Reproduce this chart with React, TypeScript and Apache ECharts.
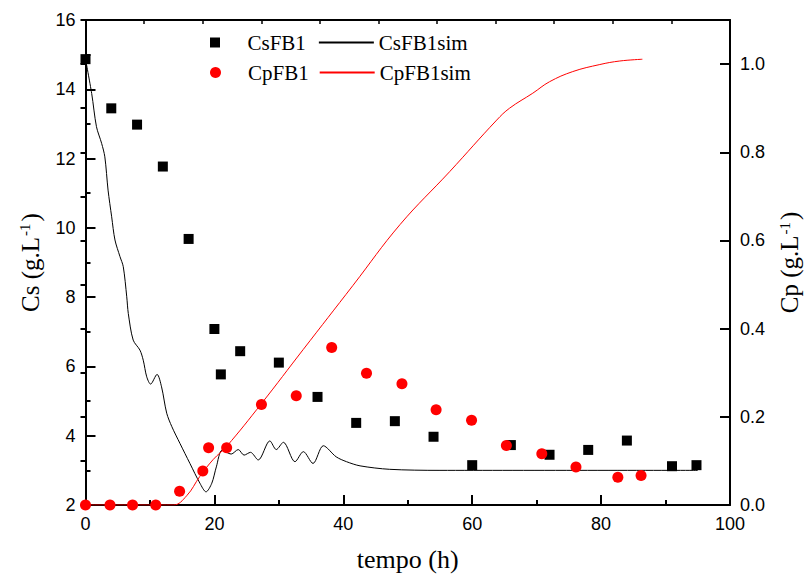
import React, { useEffect, useRef } from 'react';
import * as echarts from 'echarts';

// Measured substrate Cs (g/L), left axis
const csT = [0, 4, 8, 12, 16, 20, 21, 24, 30, 36, 42, 48, 54, 60, 66, 72, 78, 84, 91, 94.8];
const csV = [14.87, 13.45, 12.98, 11.77, 9.68, 7.08, 5.77, 6.44, 6.11, 5.12, 4.37, 4.42, 3.97, 3.15, 3.73, 3.45, 3.59, 3.86, 3.12, 3.15];

// Measured product Cp (g/L), right axis
const cpT = [0, 3.8, 7.3, 10.9, 14.6, 18.2, 19.1, 21.9, 27.3, 32.7, 38.2, 43.6, 49.1, 54.4, 59.9, 65.3, 70.8, 76.1, 82.6, 86.2];
const cpV = [0, 0, 0, 0, 0.031, 0.077, 0.13, 0.13, 0.228, 0.248, 0.357, 0.299, 0.275, 0.216, 0.192, 0.135, 0.116, 0.086, 0.063, 0.067];

// Simulated Cs curve
const csSimT = [0, 0.96, 1.7, 2.5, 3.0, 3.5, 4.06, 4.57, 5.35, 5.86, 6.4, 6.64, 7.4, 8.45, 8.96, 9.5, 10.1, 11.1, 11.8, 12.6, 13.4, 14.65, 16.2, 17.75, 18.7, 19.6, 20.3, 21.2, 22.6, 23.7, 24.6, 25.6, 26.8, 28.6, 29.6, 30.7, 32.5, 33.8, 35.3, 36.9, 38.9, 40.5, 42.6, 47.2, 55, 95];
const csSimV = [14.87, 13.88, 12.92, 12.44, 12.05, 11.09, 10.32, 9.65, 9.17, 8.88, 8.01, 7.53, 6.76, 6.47, 6.18, 5.7, 5.49, 5.77, 5.41, 4.65, 4.26, 3.78, 3.2, 2.63, 2.38, 2.63, 3.1, 3.58, 3.47, 3.6, 3.44, 3.52, 3.3, 3.85, 3.6, 3.81, 3.25, 3.54, 3.2, 3.71, 3.39, 3.25, 3.13, 3.03, 3.0, 3.0];

// Simulated Cp curve
const cpSimT = [0, 13.6, 15.7, 17.75, 19.8, 21.9, 27.3, 33.8, 41.5, 48.8, 56.5, 63.8, 65.8, 69.4, 72.0, 75.6, 79.8, 82.9, 86.4];
const cpSimV = [0, 0, 0.021, 0.065, 0.103, 0.133, 0.23, 0.353, 0.498, 0.636, 0.756, 0.873, 0.9, 0.934, 0.96, 0.983, 0.999, 1.007, 1.011];

const zip = (a: number[], b: number[]) => a.map((x, i) => [x, b[i]]);

const SERIF = 'Liberation Serif';
const SANS = 'Liberation Sans';
const SQUARE = 'path://M0,0H10V10H0Z';

export default function App() {
  const ref = useRef<HTMLDivElement>(null);
  useEffect(() => {
    const chart = echarts.init(ref.current!, null, { renderer: 'svg' });
    const axisLine = { show: true, onZero: false, lineStyle: { color: '#000', width: 2 } };
    const tick = { show: true, inside: true, length: 10, lineStyle: { color: '#000', width: 2 } };
    const minor = { show: true, splitNumber: 2, length: 5, lineStyle: { color: '#000', width: 2 } };
    const label = { fontFamily: SANS, fontSize: 18, color: '#000', margin: 10 };
    const legendText = { fontFamily: SERIF, fontSize: 21, color: '#000' };
    const nameStyle = {
      fontFamily: SERIF, fontSize: 25, color: '#000',
      rich: { sup: { fontFamily: SERIF, fontSize: 15, color: '#000', verticalAlign: 'top', padding: [0, 2, 0, 1] } },
    };
    chart.setOption({
      animation: false,
      backgroundColor: '#fff',
      grid: { left: 85.5, right: 78, top: 20, bottom: 71, containLabel: false, outerBoundsMode: 'none' },
      legend: [
        {
          data: [
            { name: 'CsFB1', icon: SQUARE },
            { name: 'CsFB1sim', itemStyle: { opacity: 0 } },
          ],
          left: 210, top: 32, itemWidth: 55, itemHeight: 10, itemGap: 12, padding: 0,
          textStyle: legendText, selectedMode: false,
        },
        {
          data: [
            { name: 'CpFB1', icon: 'circle' },
            { name: 'CpFB1sim', itemStyle: { opacity: 0 } },
          ],
          left: 210, top: 62, itemWidth: 55, itemHeight: 11, itemGap: 10, padding: 0,
          textStyle: legendText, selectedMode: false,
        },
      ],
      xAxis: [
        {
          type: 'value', min: 0, max: 100, interval: 20, position: 'bottom',
          axisLine, axisTick: tick, minorTick: minor, splitLine: { show: false },
          axisLabel: label,
          name: 'tempo (h)', nameLocation: 'middle', nameGap: 41,
          nameTextStyle: { fontFamily: SERIF, fontSize: 26, color: '#000' },
        },
        {
          type: 'value', min: 0, max: 11, interval: 1, position: 'top',
          axisLine, axisTick: { show: true, inside: true, length: 4, lineStyle: { color: '#000', width: 1.5 } },
          axisLabel: { show: false }, splitLine: { show: false },
        },
      ],
      yAxis: [
        {
          type: 'value', min: 2, max: 16, interval: 2, position: 'left',
          axisLine, axisTick: tick, minorTick: minor, splitLine: { show: false },
          axisLabel: label,
          name: 'Cs (g.L{sup|-1})', nameLocation: 'middle', nameRotate: 90, nameGap: 43,
          nameTextStyle: nameStyle,
        },
        {
          type: 'value', min: 0, max: 1.1, interval: 0.2, position: 'right',
          axisLine, axisTick: tick, splitLine: { show: false },
          axisLabel: {
            ...label,
            formatter: (v: number) => (Math.abs(v - 1.1) < 1e-6 ? '' : v.toFixed(1)),
          },
          name: 'Cp (g.L{sup|-1})', nameLocation: 'middle', nameRotate: 90, nameGap: 47,
          nameTextStyle: nameStyle,
        },
        {
          type: 'value', min: 0, max: 1.1, interval: 0.1, position: 'right',
          axisLine: { show: false },
          axisTick: { show: true, inside: true, length: 5, lineStyle: { color: '#000', width: 2 } },
          axisLabel: { show: false }, splitLine: { show: false },
        },
      ],
      series: [
        {
          name: 'CsFB1sim', type: 'line', xAxisIndex: 0, yAxisIndex: 0,
          data: zip(csSimT, csSimV), symbol: 'none', smooth: 0.3,
          lineStyle: { color: '#000', width: 1 }, itemStyle: { color: '#000' }, z: 2,
        },
        {
          name: 'CpFB1sim', type: 'line', xAxisIndex: 0, yAxisIndex: 1,
          data: zip(cpSimT, cpSimV), symbol: 'none', smooth: 0.4,
          lineStyle: { color: '#ff0000', width: 1 }, itemStyle: { color: '#ff0000' }, z: 2,
        },
        {
          name: 'CsFB1', type: 'scatter', xAxisIndex: 0, yAxisIndex: 0,
          data: zip(csT, csV), symbol: SQUARE, symbolSize: 10,
          itemStyle: { color: '#000', opacity: 1 }, z: 3,
        },
        {
          name: 'CpFB1', type: 'scatter', xAxisIndex: 0, yAxisIndex: 1,
          data: zip(cpT, cpV), symbol: 'circle', symbolSize: 11,
          itemStyle: { color: '#ff0000', opacity: 1 }, z: 3,
        },
      ],
    });
    return () => chart.dispose();
  }, []);
  return (
    <div
      ref={ref}
      style={{ position: 'absolute', left: 0, top: 0, width: 808, height: 576, background: '#fff' }}
    />
  );
}
